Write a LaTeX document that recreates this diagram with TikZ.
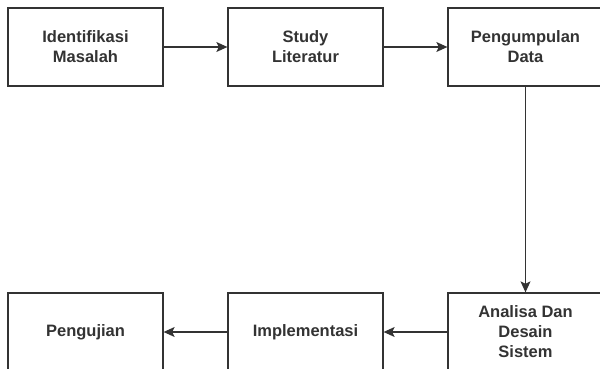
\documentclass[tikz,border=0pt]{standalone}
\usepackage{fontspec}
\setmainfont{Liberation Sans}
\usetikzlibrary{arrows.meta}
\definecolor{txt}{HTML}{333333}
\definecolor{ln}{HTML}{333333}
\begin{document}
\begin{tikzpicture}[x=1pt,y=-1pt,
  procbox/.style={draw=ln,line width=1.3pt,fill=white,minimum width=155pt,minimum height=78pt,
    inner sep=0pt,align=center,text=txt,font=\fontsize{16.5}{20}\selectfont\bfseries},
  conn/.style={draw=ln,line width=1.1pt,-{Stealth[length=11pt,width=10pt,inset=2.5pt]}}]
\useasboundingbox (0,0) rectangle (600,369);
\clip (0,0) rectangle (600,369);
\fill[white] (0,0) rectangle (600,369);
\node[procbox] (a) at (85.5,47) {Identifikasi\\Masalah};
\node[procbox] (b) at (305.5,47) {Study\\Literatur};
\node[procbox] (c) at (525.5,47) {Pengumpulan\\Data};
\node[procbox] (f) at (525.5,332) {Analisa Dan\\Desain\\Sistem};
\node[procbox] (e) at (305.5,332) {Implementasi};
\node[procbox] (d) at (85.5,332) {Pengujian};
\draw[conn] (a) -- (b);
\draw[conn] (b) -- (c);
\draw[conn] (c) -- (f);
\draw[conn] (f) -- (e);
\draw[conn] (e) -- (d);
\end{tikzpicture}
\end{document}
